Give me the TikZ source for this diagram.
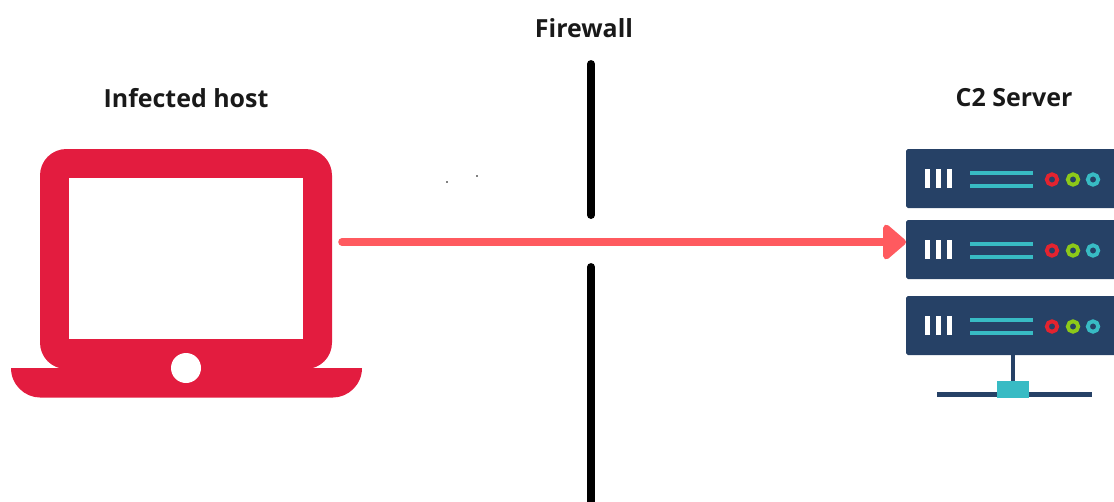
\documentclass[tikz,border=0pt]{standalone}
\usepackage{fontspec}
\setmainfont{Open Sans}
\usetikzlibrary{arrows.meta}
\definecolor{laptopred}{HTML}{E31C3F}
\definecolor{linkred}{HTML}{FF5A5F}
\definecolor{rackblue}{HTML}{264166}
\definecolor{rackteal}{HTML}{38BBC4}
\definecolor{lampgreen}{HTML}{8CC919}
\definecolor{lampred}{HTML}{E3232F}
\tikzset{
	heading/.style = {font=\fontsize{14.2}{17}\selectfont\bfseries, text=black!90, inner sep=0pt},
	wall/.style = {black, line width=4.5pt, line cap=round},
	lamp/.style = {draw=#1, line width=2.2pt, fill=rackblue}
}
\begin{document}
\begin{tikzpicture}[x=0.02cm, y=-0.02cm]
	\useasboundingbox (0,0) rectangle (1114,501);
	% laptop
	\fill[laptopred, rounded corners=15pt] (40,149) rectangle (332,369);
	\fill[laptopred] (11,368) -- (362,368) .. controls (362,385) and (348,397.5) .. (333,397.5) -- (40,397.5) .. controls (25,397.5) and (11,385) .. (11,368) -- cycle;
	\fill[white] (69,178) rectangle (303,339);
	\fill[white] (186,368) circle (15);
	% server
	\foreach \y in {149,220,296} {
		\fill[rackblue, rounded corners=1pt] (906,\y) rectangle (1125,\y+59);
		\foreach \x in {925,936,947}
			\fill[white] (\x,\y+20) rectangle (\x+5,\y+39);
		\foreach \z in {24,37}
			\draw[rackteal, line width=2.2pt] (970,\y+\z) -- (1033,\y+\z);
		\draw[lamp=lampred] (1052,\y+30.5) circle (5.2);
		\draw[lamp=lampgreen] (1073,\y+30.5) circle (5.2);
		\draw[lamp=rackteal] (1093,\y+30.5) circle (5.2);
	}
	\draw[rackblue, line width=2.4pt] (1013,355) -- (1013,385);
	\draw[rackblue, line width=2.8pt] (937,394.5) -- (1092,394.5);
	\fill[rackteal] (997,381) rectangle (1029,398);
	% firewall
	\coordinate (wall top) at (591,64);
	\coordinate (wall gap top) at (591,215);
	\coordinate (wall gap bottom) at (591,267);
	\coordinate (wall bottom) at (591,510);
	\draw[wall] (wall top) -- (wall gap top);
	\draw[wall] (wall gap bottom) -- (wall bottom);
	% specks
	\fill[black] (447,182) circle (0.9) (477,176) circle (0.9);
	% link
	\coordinate (host port) at (342,242);
	\coordinate (server port) at (906,242);
	\draw[linkred, line width=4.3pt, line cap=round, -{Triangle[round, length=14pt, width=23pt]}] (host port) -- (server port);
	\node[heading] (host label) at (186,98) {Infected host};
	\node[heading] (wall label) at (584,28) {Firewall};
	\node[heading] (server label) at (1014,98) {C2 Server};
\end{tikzpicture}
\end{document}
